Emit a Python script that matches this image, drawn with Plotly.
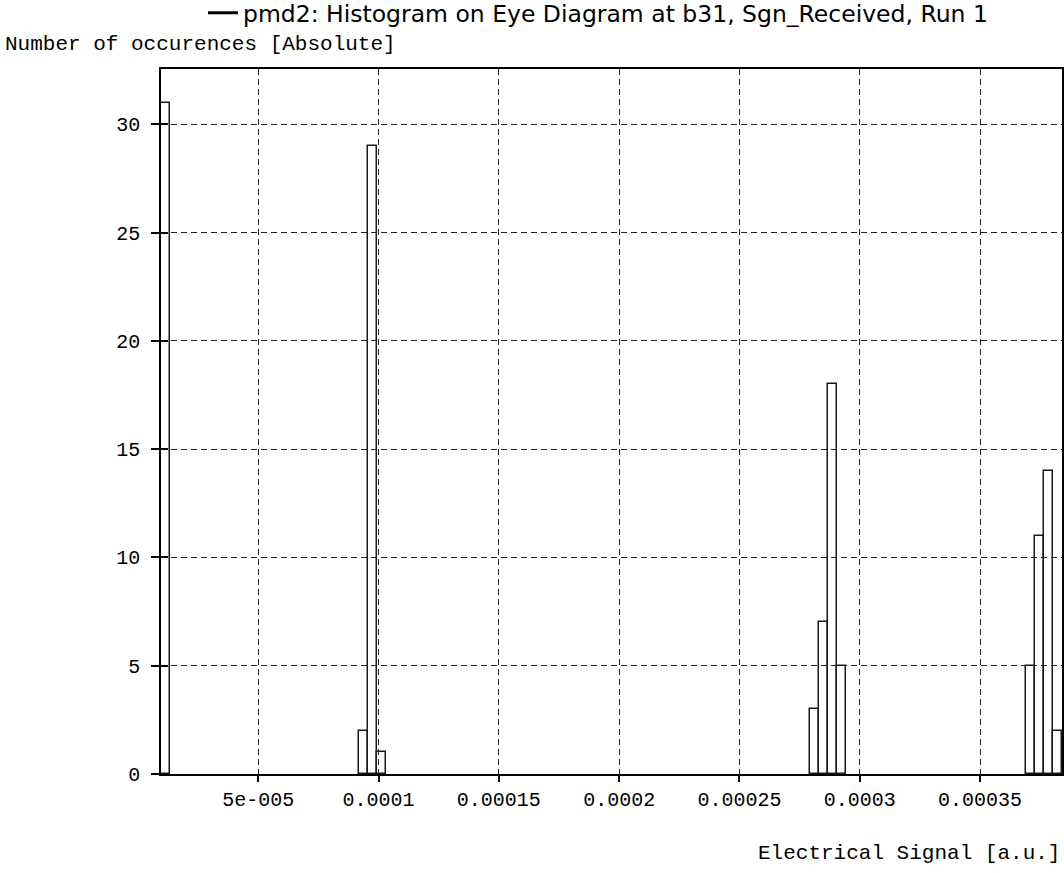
import plotly.graph_objects as go

# Histogram bins (centres in a.u.) that hold at least one sample, and their counts
bin_centers = [
    1.1443e-5,
    9.3833e-5, 9.7578e-5, 1.01323e-4,
    2.81083e-4, 2.84828e-4, 2.88573e-4, 2.92318e-4,
    3.70963e-4, 3.74708e-4, 3.78453e-4, 3.82198e-4,
]
counts = [31, 2, 29, 1, 3, 7, 18, 5, 5, 11, 14, 2]

BIN_WIDTH = 3.745e-6
X_RANGE = [9.57e-6, 3.8407e-4]
Y_RANGE = [0, 32.55]

x_tickvals = [5e-5, 1e-4, 1.5e-4, 2e-4, 2.5e-4, 3e-4, 3.5e-4]
x_ticktext = ["5e-005", "0.0001", "0.00015", "0.0002", "0.00025", "0.0003", "0.00035"]
y_tickvals = [0, 5, 10, 15, 20, 25, 30]

series_name = "pmd2: Histogram on Eye Diagram at b31, Sgn_Received, Run 1"
x_title = "Electrical Signal [a.u.]"
y_title = "Number of occurences [Absolute]"

MONO = "Liberation Mono"
SANS = "DejaVu Sans"

fig = go.Figure()

fig.add_trace(go.Bar(
    x=bin_centers,
    y=counts,
    width=BIN_WIDTH,
    marker=dict(color="rgba(0,0,0,0)", line=dict(color="#1a1a1a", width=1.5)),
    showlegend=False,
    hoverinfo="x+y",
))

# legend entry shown as the series header above the plot
fig.add_trace(go.Scatter(
    x=[None], y=[None],
    mode="lines",
    line=dict(color="black", width=3),
    name=series_name,
    showlegend=True,
    yaxis="y2",
))

W, H = 1064, 873
L, R, T, B = 161, 2, 69, 99
plot_w = W - L - R
plot_h = H - T - B


def paper_x(px):
    return (px - L) / plot_w


def paper_y(py):
    return (H - B - py) / plot_h


grid_style = dict(showgrid=True, gridcolor="#222222", gridwidth=1, griddash="6px,4px")

fig.update_layout(
    width=W, height=H,
    margin=dict(l=L, r=R, t=T, b=B, pad=0, autoexpand=False),
    paper_bgcolor="white",
    plot_bgcolor="white",
    bargap=0,
    font=dict(family=MONO, size=20, color="black"),
    xaxis=dict(
        range=X_RANGE,
        tickvals=x_tickvals,
        ticktext=x_ticktext,
        ticks="outside", ticklen=6, tickcolor="black", tickwidth=1.5,
        showline=True, linecolor="black", linewidth=1.5, mirror=True,
        zeroline=False,
        tickfont=dict(family=MONO, size=20, color="black"),
        **grid_style,
    ),
    yaxis=dict(
        range=Y_RANGE,
        tickvals=y_tickvals,
        ticks="outside", ticklen=8, tickcolor="black", tickwidth=1.5,
        ticklabelstandoff=7,
        showline=True, linecolor="black", linewidth=1.5, mirror=True,
        zeroline=False,
        tickfont=dict(family=MONO, size=20, color="black"),
        **grid_style,
    ),
    yaxis2=dict(
        overlaying="y", matches="y", side="left",
        tickvals=y_tickvals,
        ticks="inside", ticklen=7, tickcolor="black", tickwidth=1.5,
        showticklabels=False, showgrid=False, showline=False, zeroline=False,
    ),
    legend=dict(
        x=paper_x(598), xanchor="center",
        y=paper_y(13), yanchor="middle",
        bgcolor="rgba(0,0,0,0)",
        font=dict(family=SANS, size=23.5, color="black"),
        itemwidth=30,
    ),
    annotations=[
        dict(
            text=y_title, xref="paper", yref="paper",
            x=paper_x(3), xanchor="left",
            y=paper_y(45), yanchor="middle",
            showarrow=False, font=dict(family=MONO, size=21, color="black"),
        ),
        dict(
            text=x_title, xref="paper", yref="paper",
            x=1, xanchor="right",
            y=paper_y(853), yanchor="middle",
            showarrow=False, font=dict(family=MONO, size=21, color="black"),
        ),
    ],
)

fig.write_html("out.html")
